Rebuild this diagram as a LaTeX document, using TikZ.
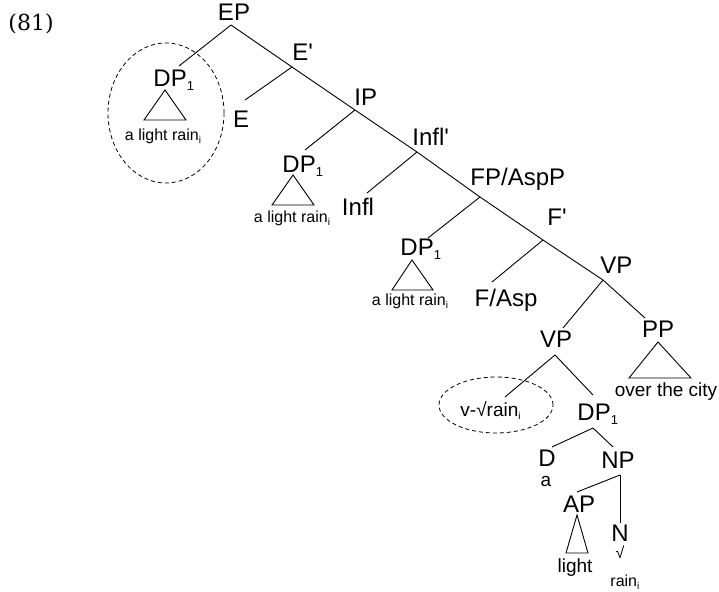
\documentclass[tikz,border=0pt]{standalone}
\usepackage{fontspec}
\setmainfont{Liberation Sans}
\newfontfamily\exfont{DejaVu Serif}
\usetikzlibrary{shapes.geometric}

\newcommand{\sbone}{\raisebox{-4pt}{\fontsize{13}{13}\selectfont 1}}
\newcommand{\sbi}{\raisebox{-3pt}{\fontsize{10}{10}\selectfont i}}
\newcommand{\br}{\textquotesingle}

\begin{document}
\begin{tikzpicture}[x=1pt, y=-1pt, line width=0.9pt,
	cat/.style={inner sep=0pt, font=\fontsize{24}{24}\selectfont},
	leaf/.style={inner sep=0pt, font=\fontsize{19}{19}\selectfont},
	small/.style={inner sep=0pt, font=\fontsize{16}{16}\selectfont},
	ring/.style={draw, ellipse, inner sep=0pt, line width=0.8pt, dash pattern=on 4pt off 3pt}]
				\useasboundingbox (0,0) rectangle (719,591);
				\node[anchor=base west, inner sep=0pt, font=\exfont\fontsize{22}{22}\selectfont] (ex) at (8,31) {(81)};
				
				\node[cat, anchor=base] (EP) at (234,21) {EP};
				\node[cat, anchor=base west] (Ebar) at (292,61) {E\br};
				\node[cat, anchor=base west] (IP) at (354,106) {IP};
				\node[cat, anchor=base west] (Inflbar) at (412,145) {Infl\br};
				\node[cat, anchor=base west] (FP) at (470,185) {FP/AspP};
				\node[cat, anchor=base west] (Fbar) at (547,225) {F\br};
				\node[cat, anchor=base west] (VPa) at (600,273) {VP};
				
				\node[cat, anchor=base west] (DPa) at (153,87) {DP\sbone};
				\node[cat, anchor=base] (E) at (241,127) {E};
				\node[cat, anchor=base west] (DPb) at (282,172) {DP\sbone};
				\node[cat, anchor=base] (Infl) at (358,215) {Infl};
				\node[cat, anchor=base west] (DPc) at (400,255) {DP\sbone};
				\node[cat, anchor=base] (FAsp) at (506,306) {F/Asp};
				\node[cat, anchor=base] (VPb) at (556,347) {VP};
				\node[cat, anchor=base] (PP) at (658,337) {PP};
				\node[leaf, anchor=base west] (v) at (460,416) {v-√rain\sbi};
				\node[cat, anchor=base west] (DPd) at (577,420) {DP\sbone};
				\node[cat, anchor=base] (D) at (547,466) {D};
				\node[leaf, anchor=base] (det) at (546,486) {a};
				\node[cat, anchor=base] (NP) at (618,468) {NP};
				\node[cat, anchor=base] (AP) at (579,512) {AP};
				\node[leaf, anchor=base] (light) at (575,572) {light};
				\node[cat, anchor=base] (N) at (620,541) {N};
				\node[small, anchor=base] (root) at (620,558) {√};
				\node[small, anchor=base west] (rain) at (610,586) {rain\sbi};
				
				\node[small, anchor=base] (rainA) at (163,140) {a light rain\sbi};
				\node[small, anchor=base] (rainB) at (292,222) {a light rain\sbi};
				\node[small, anchor=base] (rainC) at (410,305) {a light rain\sbi};
				\node[leaf, anchor=base] (city) at (666,396) {over the city};
				
				\node[ring, minimum width=116pt, minimum height=140pt] (ringA) at (166,113) {};
				\node[ring, minimum width=114pt, minimum height=56pt] (ringB) at (496,405) {};
				
				\coordinate (EPj) at (231,25);
				\coordinate (Ebarj) at (292,67);
				\coordinate (IPj) at (355,110);
				\coordinate (Inflbarj) at (417,152);
				\coordinate (FPj) at (480,197);
				\coordinate (Fbarj) at (543,240);
				\coordinate (VPaj) at (603,280);
				\coordinate (VPbj) at (555,355);
				\coordinate (DPdj) at (593,428);
				\coordinate (NPj) at (620,475);
				
				\coordinate (DPat) at (179,66);
				\coordinate (Et) at (245,100);
				\coordinate (DPbt) at (305,150);
				\coordinate (Inflt) at (367,193);
				\coordinate (DPct) at (428,238);
				\coordinate (FAspt) at (492,282);
				\coordinate (VPbt) at (563,328);
				\coordinate (PPt) at (645,318);
				\coordinate (vt) at (505,397);
				\coordinate (DPdt) at (593,395);
				\coordinate (Dt) at (552,447);
				\coordinate (NPt) at (613,447);
				\coordinate (APt) at (577,492);
				\coordinate (Nt) at (620,523);
				
				\draw (EPj) -- (Ebarj) -- (IPj) -- (Inflbarj) -- (FPj) -- (Fbarj) -- (VPaj);
				\draw (EPj) -- (DPat);
				\draw (Ebarj) -- (Et);
				\draw (IPj) -- (DPbt);
				\draw (Inflbarj) -- (Inflt);
				\draw (FPj) -- (DPct);
				\draw (Fbarj) -- (FAspt);
				\draw (VPaj) -- (VPbt);
				\draw (VPaj) -- (PPt);
				\draw (VPbj) -- (vt);
				\draw (VPbj) -- (DPdt);
				\draw (DPdj) -- (Dt);
				\draw (DPdj) -- (NPt);
				\draw (NPj) -- (APt);
				\draw (NPj) -- (Nt);
				
				\draw (165,90) -- (144,120) -- (186,120) -- cycle;
				\draw (293,175) -- (272,205) -- (314,205) -- cycle;
				\draw (412,260) -- (392,290) -- (433,290) -- cycle;
				\draw (658,342) -- (629,378) -- (691,378) -- cycle;
				\draw (577,515) -- (566,553) -- (588,553) -- cycle;
			\end{tikzpicture}
\end{document}
